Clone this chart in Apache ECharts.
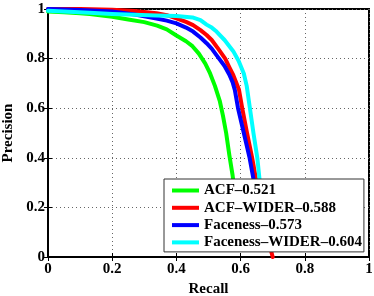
<!DOCTYPE html>
<html>
<head>
<meta charset="utf-8">
<script src="https://cdn.jsdelivr.net/npm/echarts@6/dist/echarts.min.js"></script>
<style>
html,body{margin:0;padding:0;background:#fff;}
#chart{width:374px;height:296px;}
</style>
</head>
<body>
<div id="chart"></div>
<script>
var seriesNames = ['ACF\u20130.521', 'ACF\u2013WIDER\u20130.588', 'Faceness\u20130.573', 'Faceness\u2013WIDER\u20130.604'];
var seriesColors = ['#00ff00', '#ff0000', '#0000ff', '#00ffff'];
var xTicks = [0, 0.2, 0.4, 0.6, 0.8, 1];
var yTicks = [0, 0.2, 0.4, 0.6, 0.8, 1];

var acf = [[0,0.99],[0.05,0.987],[0.1,0.983],[0.13,0.98],[0.2,0.969],[0.25,0.958],[0.3,0.947],[0.34,0.933],[0.37,0.918],[0.4,0.893],[0.43,0.87],[0.45,0.85],[0.47,0.82],[0.49,0.78],[0.505,0.74],[0.52,0.69],[0.535,0.63],[0.545,0.57],[0.555,0.5],[0.565,0.41],[0.575,0.33],[0.583,0.25],[0.59,0.16],[0.597,0.08]];
var acfWider = [[0,1.0],[0.1,1.0],[0.2,0.997],[0.27,0.992],[0.338,0.983],[0.37,0.975],[0.4,0.962],[0.43,0.948],[0.452,0.935],[0.475,0.915],[0.494,0.895],[0.51,0.875],[0.53,0.84],[0.552,0.8],[0.565,0.765],[0.577,0.734],[0.595,0.674],[0.605,0.6],[0.62,0.5],[0.636,0.4],[0.65,0.3],[0.665,0.2],[0.68,0.1],[0.7,0]];
var faceness = [[0,1.0],[0.1,0.996],[0.2,0.99],[0.27,0.978],[0.338,0.962],[0.37,0.953],[0.4,0.942],[0.43,0.925],[0.452,0.909],[0.475,0.885],[0.494,0.862],[0.51,0.84],[0.53,0.805],[0.55,0.77],[0.565,0.735],[0.575,0.705],[0.582,0.674],[0.592,0.6],[0.61,0.5],[0.628,0.4],[0.645,0.28],[0.655,0.2],[0.662,0.1]];
var facenessWider = [[0,0.993],[0.13,0.985],[0.2,0.98],[0.338,0.974],[0.4,0.972],[0.45,0.966],[0.475,0.955],[0.494,0.937],[0.51,0.925],[0.525,0.909],[0.55,0.875],[0.577,0.83],[0.594,0.79],[0.61,0.74],[0.619,0.69],[0.629,0.6],[0.64,0.5],[0.652,0.4],[0.66,0.3],[0.666,0.2],[0.672,0.1]];
var allData = [acf, acfWider, faceness, facenessWider];

var FONT = '"Liberation Serif", "Times New Roman", serif';
var chart = echarts.init(document.getElementById('chart'), null, {renderer: 'canvas'});

var series = allData.map(function (d, i) {
  return {
    name: seriesNames[i],
    type: 'line',
    data: d,
    showSymbol: false,
    symbol: 'none',
    smooth: false,
    lineStyle: {color: seriesColors[i], width: 4, join: 'round', cap: 'round'},
    itemStyle: {color: seriesColors[i]},
    animation: false,
    xAxisIndex: 0,
    yAxisIndex: 0
  };
});

function fmt(ticks) {
  return function (v) { var r = Math.round(v * 10) / 10; return String(ticks.indexOf(r) >= 0 ? r : v); };
}

var option = {
  animation: false,
  backgroundColor: '#fff',
  grid: {left: 48, right: 5, top: 9, bottom: 39, containLabel: false, outerBoundsMode: 'none',
    show: true, borderColor: '#000', borderWidth: 2, backgroundColor: 'transparent'},
  legend: {
    orient: 'vertical',
    left: 164,
    top: 179,
    data: seriesNames,
    icon: 'rect',
    itemWidth: 27,
    itemHeight: 4,
    itemGap: 2.3,
    padding: [4, 2, 2, 8],
    backgroundColor: '#fff',
    borderColor: '#333',
    borderWidth: 1,
    textStyle: {fontFamily: FONT, fontWeight: 'bold', fontSize: 15, color: '#000', lineHeight: 15},
    z: 10
  },
  xAxis: [{
    type: 'value', min: 0, max: 1, interval: 0.2,
    name: 'Recall', nameLocation: 'middle', nameGap: 19,
    nameTextStyle: {fontFamily: FONT, fontWeight: 'bold', fontSize: 15, color: '#000'},
    axisLine: {show: true, lineStyle: {color: '#000', width: 2}},
    axisTick: {show: true, inside: true, length: 4, lineStyle: {color: '#000', width: 1}},
    axisLabel: {fontFamily: FONT, fontWeight: 'bold', fontSize: 15, color: '#000', margin: 5, formatter: fmt(xTicks)},
    splitLine: {show: true, lineStyle: {color: '#666', type: [1, 3], width: 1}}
  }, {
    type: 'value', min: 0, max: 1, interval: 0.2, position: 'top',
    axisLine: {show: true, lineStyle: {color: '#000', width: 2}},
    axisTick: {show: true, inside: true, length: 4, lineStyle: {color: '#000', width: 1}},
    axisLabel: {show: false}, splitLine: {show: false}
  }],
  yAxis: [{
    type: 'value', min: 0, max: 1, interval: 0.2,
    name: 'Precision', nameLocation: 'middle', nameGap: 26, nameRotate: 90,
    nameTextStyle: {fontFamily: FONT, fontWeight: 'bold', fontSize: 15, color: '#000'},
    axisLine: {show: true, lineStyle: {color: '#000', width: 2}},
    axisTick: {show: true, inside: true, length: 4, lineStyle: {color: '#000', width: 1}},
    axisLabel: {fontFamily: FONT, fontWeight: 'bold', fontSize: 15, color: '#000', margin: 3, formatter: fmt(yTicks)},
    splitLine: {show: true, lineStyle: {color: '#666', type: [1, 3], width: 1}}
  }, {
    type: 'value', min: 0, max: 1, interval: 0.2, position: 'right',
    axisLine: {show: true, lineStyle: {color: '#000', width: 2}},
    axisTick: {show: true, inside: true, length: 4, lineStyle: {color: '#000', width: 1}},
    axisLabel: {show: false}, splitLine: {show: false}
  }],
  series: series
};
chart.setOption(option);
</script>
</body>
</html>
